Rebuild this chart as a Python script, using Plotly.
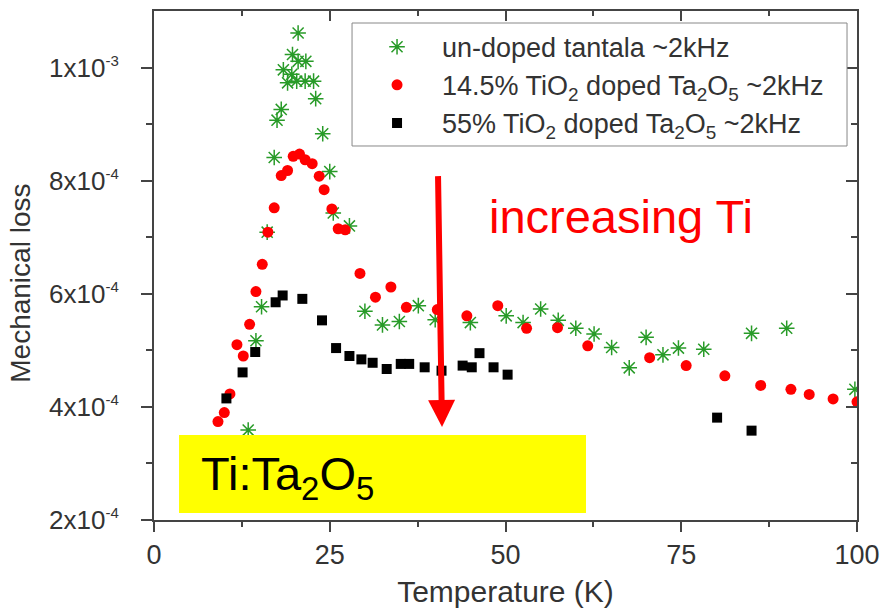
import plotly.graph_objects as go

# ---- data ----
undoped_T = [20.5, 19.7, 20.5, 21.6, 18.4, 19.6, 19.0, 20.3, 21.5, 22.7, 23.0, 18.1, 17.5, 24.0,
             17.1, 25.0, 25.5, 27.8, 16.1, 15.3, 14.5, 13.4, 30.0, 32.5, 34.9, 37.6, 40.0, 45.0,
             50.1, 52.5, 55.0, 57.5, 60.0, 62.6, 65.1, 67.6, 70.0, 72.4, 74.6, 78.2, 85.0, 90.0, 99.7]
undoped_loss = [1.061e-3, 1.023e-3, 1.011e-3, 1.011e-3, 0.996e-3, 0.988e-3, 0.973e-3, 0.976e-3, 0.976e-3,
                0.976e-3, 0.945e-3, 0.926e-3, 0.907e-3, 0.883e-3, 0.841e-3, 0.816e-3, 0.743e-3, 0.720e-3,
                0.709e-3, 0.577e-3, 0.517e-3, 0.359e-3, 0.569e-3, 0.545e-3, 0.551e-3, 0.579e-3, 0.554e-3,
                0.549e-3, 0.561e-3, 0.549e-3, 0.573e-3, 0.553e-3, 0.539e-3, 0.529e-3, 0.505e-3, 0.469e-3,
                0.523e-3, 0.492e-3, 0.504e-3, 0.502e-3, 0.530e-3, 0.539e-3, 0.431e-3]

ti145_T = [20.7, 19.8, 21.5, 22.5, 19.0, 18.1, 23.5, 24.2, 17.1, 25.3, 26.2, 27.2, 16.2, 15.4, 14.5,
           29.3, 13.6, 11.8, 12.7, 10.8, 10.0, 9.1, 31.5, 33.7, 35.9, 40.3, 44.5, 48.9, 53.0, 57.4,
           61.7, 70.5, 75.7, 81.2, 86.3, 90.6, 93.2, 96.6, 100.0]
ti145_loss = [0.847e-3, 0.843e-3, 0.837e-3, 0.830e-3, 0.818e-3, 0.809e-3, 0.808e-3, 0.784e-3, 0.752e-3,
              0.750e-3, 0.715e-3, 0.713e-3, 0.709e-3, 0.652e-3, 0.604e-3, 0.636e-3, 0.546e-3, 0.510e-3,
              0.490e-3, 0.423e-3, 0.390e-3, 0.374e-3, 0.594e-3, 0.612e-3, 0.576e-3, 0.572e-3, 0.561e-3,
              0.579e-3, 0.539e-3, 0.540e-3, 0.508e-3, 0.487e-3, 0.473e-3, 0.455e-3, 0.438e-3, 0.431e-3,
              0.422e-3, 0.414e-3, 0.409e-3]

ti55_T = [18.3, 17.3, 21.1, 23.9, 14.4, 12.6, 10.3, 25.9, 27.8, 29.5, 31.1, 33.1, 35.1, 36.3, 38.5,
          40.9, 43.9, 45.2, 46.3, 48.3, 50.3, 80.1, 85.0]
ti55_loss = [0.597e-3, 0.585e-3, 0.591e-3, 0.553e-3, 0.497e-3, 0.461e-3, 0.415e-3, 0.504e-3, 0.490e-3,
             0.484e-3, 0.478e-3, 0.467e-3, 0.476e-3, 0.476e-3, 0.470e-3, 0.464e-3, 0.473e-3, 0.470e-3,
             0.495e-3, 0.470e-3, 0.457e-3, 0.381e-3, 0.358e-3]

series_names = ["un-doped tantala ~2kHz",
                "14.5% TiO<sub>2</sub> doped Ta<sub>2</sub>O<sub>5</sub> ~2kHz",
                "55% TiO<sub>2</sub> doped Ta<sub>2</sub>O<sub>5</sub> ~2kHz"]

x_tickvals = [0, 25, 50, 75, 100]
x_minorvals = [12.5, 37.5, 62.5, 87.5]
y_tickvals = [2e-4, 4e-4, 6e-4, 8e-4, 1e-3]
y_mantissa = ["2", "4", "6", "8", "1"]
y_exponent = ["-4", "-4", "-4", "-4", "-3"]
y_minorvals = [3e-4, 5e-4, 7e-4, 9e-4]

x_range = [0, 100]
y_range = [2e-4, 1.1e-3]

FONT = "Liberation Sans, Arial, sans-serif"
AX = "#444444"

y_ticktext = [f"{m}x10<sup><span style='font-size:15px'>{e}</span></sup>"
              for m, e in zip(y_mantissa, y_exponent)]

fig = go.Figure()
fig.add_trace(go.Scatter(x=undoped_T, y=undoped_loss, mode="markers", name=series_names[0],
                         marker=dict(symbol="asterisk-open", size=13, color="rgb(40,155,40)",
                                     line=dict(width=1.5, color="rgb(40,155,40)"))))
fig.add_trace(go.Scatter(x=ti145_T, y=ti145_loss, mode="markers", name=series_names[1],
                         marker=dict(symbol="circle", size=11, color="#ff0000")))
fig.add_trace(go.Scatter(x=ti55_T, y=ti55_loss, mode="markers", name=series_names[2],
                         marker=dict(symbol="square", size=10, color="#000000")))
# helper trace for the mirrored (inner-tick) top/right axes
fig.add_trace(go.Scatter(x=[None], y=[None], xaxis="x2", yaxis="y2", showlegend=False,
                         hoverinfo="skip"))

fig.update_layout(
    width=885, height=608,
    margin=dict(l=154, r=28, t=11, b=88),
    paper_bgcolor="white", plot_bgcolor="white",
    font=dict(family=FONT, color="#333333"),
    showlegend=True,
    legend=dict(x=0.2817, y=0.977, xanchor="left", yanchor="top",
                bgcolor="rgba(0,0,0,0)", borderwidth=0,
                font=dict(size=27, family=FONT, color="#333333"),
                itemwidth=80, tracegroupgap=0),
    xaxis=dict(range=x_range, tickvals=x_tickvals, ticktext=[str(v) for v in x_tickvals],
               automargin=False,
               showgrid=False, zeroline=False, showline=True, linecolor=AX, linewidth=2,
               mirror=True, ticks="outside", ticklen=10, tickwidth=2, tickcolor=AX,
               tickfont=dict(size=27, family=FONT, color="#333333"), ticklabelstandoff=0,
               minor=dict(tickmode="array", tickvals=x_minorvals, ticks="outside", ticklen=5,
                          tickwidth=2, tickcolor=AX),
               title=dict(text="Temperature (K)", font=dict(size=30, family=FONT, color="#333333"),
                          standoff=12)),
    yaxis=dict(range=y_range, tickvals=y_tickvals, ticktext=y_ticktext,
               automargin=False,
               showgrid=False, zeroline=False, showline=True, linecolor=AX, linewidth=2,
               mirror=True, ticks="outside", ticklen=11, tickwidth=2, tickcolor=AX,
               tickfont=dict(size=26, family=FONT, color="#333333"), ticklabelstandoff=17,
               minor=dict(tickmode="array", tickvals=y_minorvals, ticks="outside", ticklen=6,
                          tickwidth=2, tickcolor=AX)),
    xaxis2=dict(range=x_range, overlaying="x", side="top", anchor="y2", tickvals=x_tickvals,
                automargin=False,
                showticklabels=False, showgrid=False, zeroline=False, showline=False,
                ticks="inside", ticklen=10, tickwidth=2, tickcolor=AX,
                minor=dict(tickmode="array", tickvals=x_minorvals, ticks="inside", ticklen=5,
                           tickwidth=2, tickcolor=AX)),
    yaxis2=dict(range=y_range, overlaying="y", side="right", anchor="x2", tickvals=y_tickvals,
                automargin=False,
                showticklabels=False, showgrid=False, zeroline=False, showline=False,
                ticks="inside", ticklen=11, tickwidth=2, tickcolor=AX,
                minor=dict(tickmode="array", tickvals=y_minorvals, ticks="inside", ticklen=6,
                           tickwidth=2, tickcolor=AX)),
)

# legend frame (white box with grey border, as in the reference)
fig.add_shape(type="rect", xref="paper", yref="paper", x0=0.2817, x1=0.9858, y0=0.7348, y1=0.9764,
              fillcolor="white", line=dict(width=1, color="#888888"), layer="above")

# y-axis title (placed as in the reference, slightly below the axis centre)
fig.add_annotation(x=-0.19, y=0.465, xref="paper", yref="paper", xanchor="center",
                   yanchor="middle", text="Mechanical loss", textangle=-90, showarrow=False,
                   font=dict(size=28, family=FONT, color="#333333"))

# yellow label box
fig.add_shape(type="rect", xref="x", yref="y", x0=3.56, x1=61.45, y0=2.124e-4, y1=3.504e-4,
              fillcolor="#ffff00", line=dict(width=0), layer="above")
fig.add_annotation(x=6.4, y=2.76e-4, xref="x", yref="y", xanchor="left", yanchor="middle",
                   text="Ti:Ta<sub>2</sub>O<sub>5</sub>", showarrow=False,
                   font=dict(size=47, family=FONT, color="#000000"))
# increasing Ti text and arrow
fig.add_annotation(x=47.3, y=7.36e-4, xref="x", yref="y", xanchor="left", yanchor="middle",
                   text="increasing Ti", showarrow=False,
                   font=dict(size=47, family=FONT, color="#ff0000"))
fig.add_annotation(x=40.97, y=3.646e-4, ax=40.4, ay=8.106e-4, xref="x", yref="y",
                   axref="x", ayref="y", text="", showarrow=True, arrowhead=2,
                   arrowsize=0.9, arrowwidth=6, arrowcolor="#ff0000", standoff=0)

fig.write_html("out.html", config={"displayModeBar": False},
               post_script="document.body.style.margin='0';")
